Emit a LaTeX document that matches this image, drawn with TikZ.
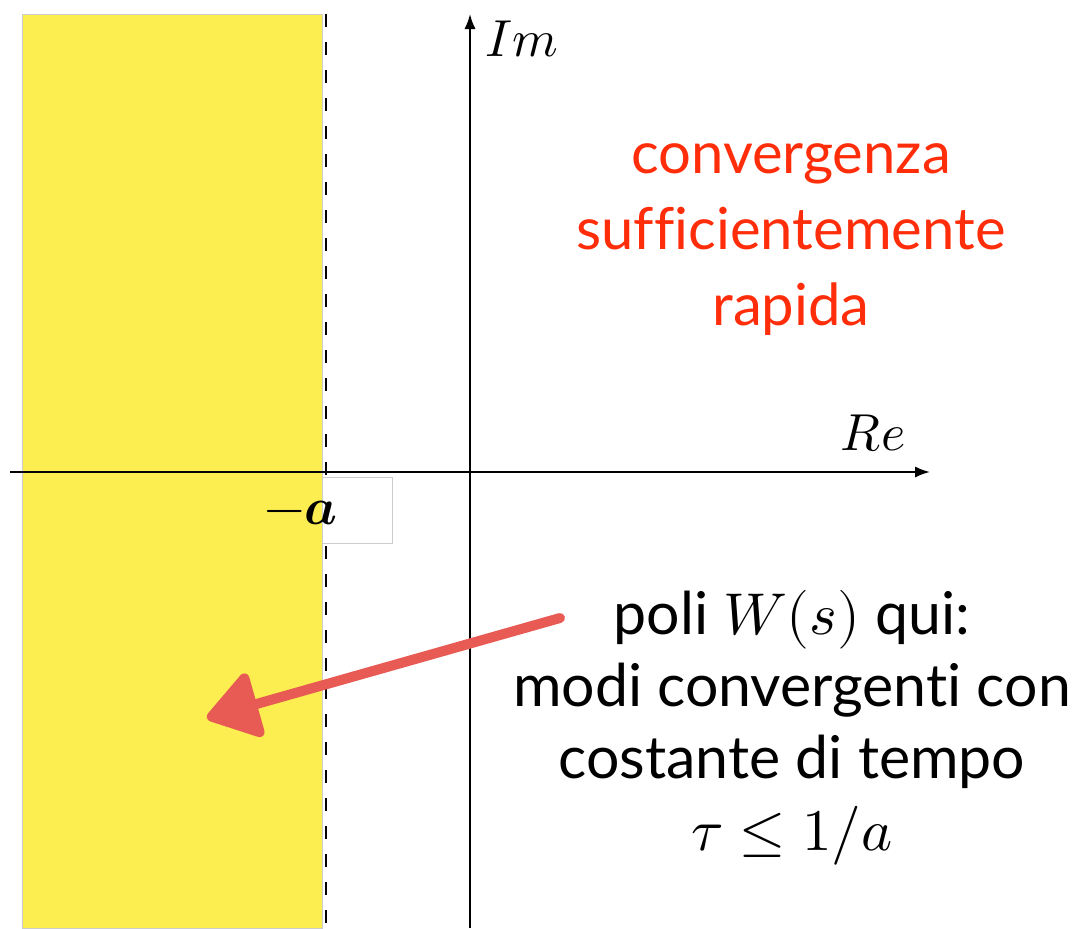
\documentclass[tikz,border=0pt]{standalone}
\usepackage{amsmath}
\usepackage{fontspec}
\usepackage{unicode-math}
\setmainfont{Lato}[Ligatures=NoCommon]
\setmathfont{Latin Modern Math}
\usepackage{xcolor}
\usetikzlibrary{arrows.meta,positioning,calc}
\definecolor{regionyellow}{HTML}{FCEE50}
\definecolor{textred}{HTML}{FF2D0A}
\definecolor{sketchred}{HTML}{E85B55}

\begin{document}
\begin{tikzpicture}[
  x=0.5pt,y=-0.5pt,>=Latex,
  axis/.style={->,line width=1pt},
  txt/.style={align=center,font=\fontsize{29.5}{36}\selectfont},
  lbl/.style={font=\fontsize{26}{30}\selectfont,inner sep=0pt}
]
\useasboundingbox (0,0) rectangle (1083,928);
% region Re(s) < -a
\fill[regionyellow,draw=gray!40,line width=0.5pt] (22,14) rectangle (322,928);
\draw[line width=1.2pt,dash pattern=on 6.5pt off 7.5pt] (326,14) -- (326,928);
% axes
\draw[axis] (10,472) -- (930,472);
\draw[axis] (470,928) -- (470,14);
\node[lbl,anchor=base] (im) at (522,56) {$Im$};
\node[lbl,anchor=base] (re) at (873,450) {$Re$};
\draw[gray!40,fill=white,line width=0.5pt] (322,477) rectangle (392,543);
\node[lbl,anchor=base] (mina) at (301,524) {$\symbf{-}\symbfit{a}$};
% texts
\node[txt,text=textred,font=\fontsize{29}{38}\selectfont] (conv) at (791,240) {convergenza\\sufficientemente\\rapida};
\node[txt] (poli) at (792,728) {poli $W(s)$ qui:\\modi convergenti con\\costante di tempo\\$\tau \leq 1/a$};
\coordinate (from) at (560,618);
\coordinate (to) at (207,718);
\draw[sketchred,line width=5pt,line cap=round,-{Triangle[length=28pt,width=36pt,round]}] (from) -- (to);
\end{tikzpicture}
\end{document}
